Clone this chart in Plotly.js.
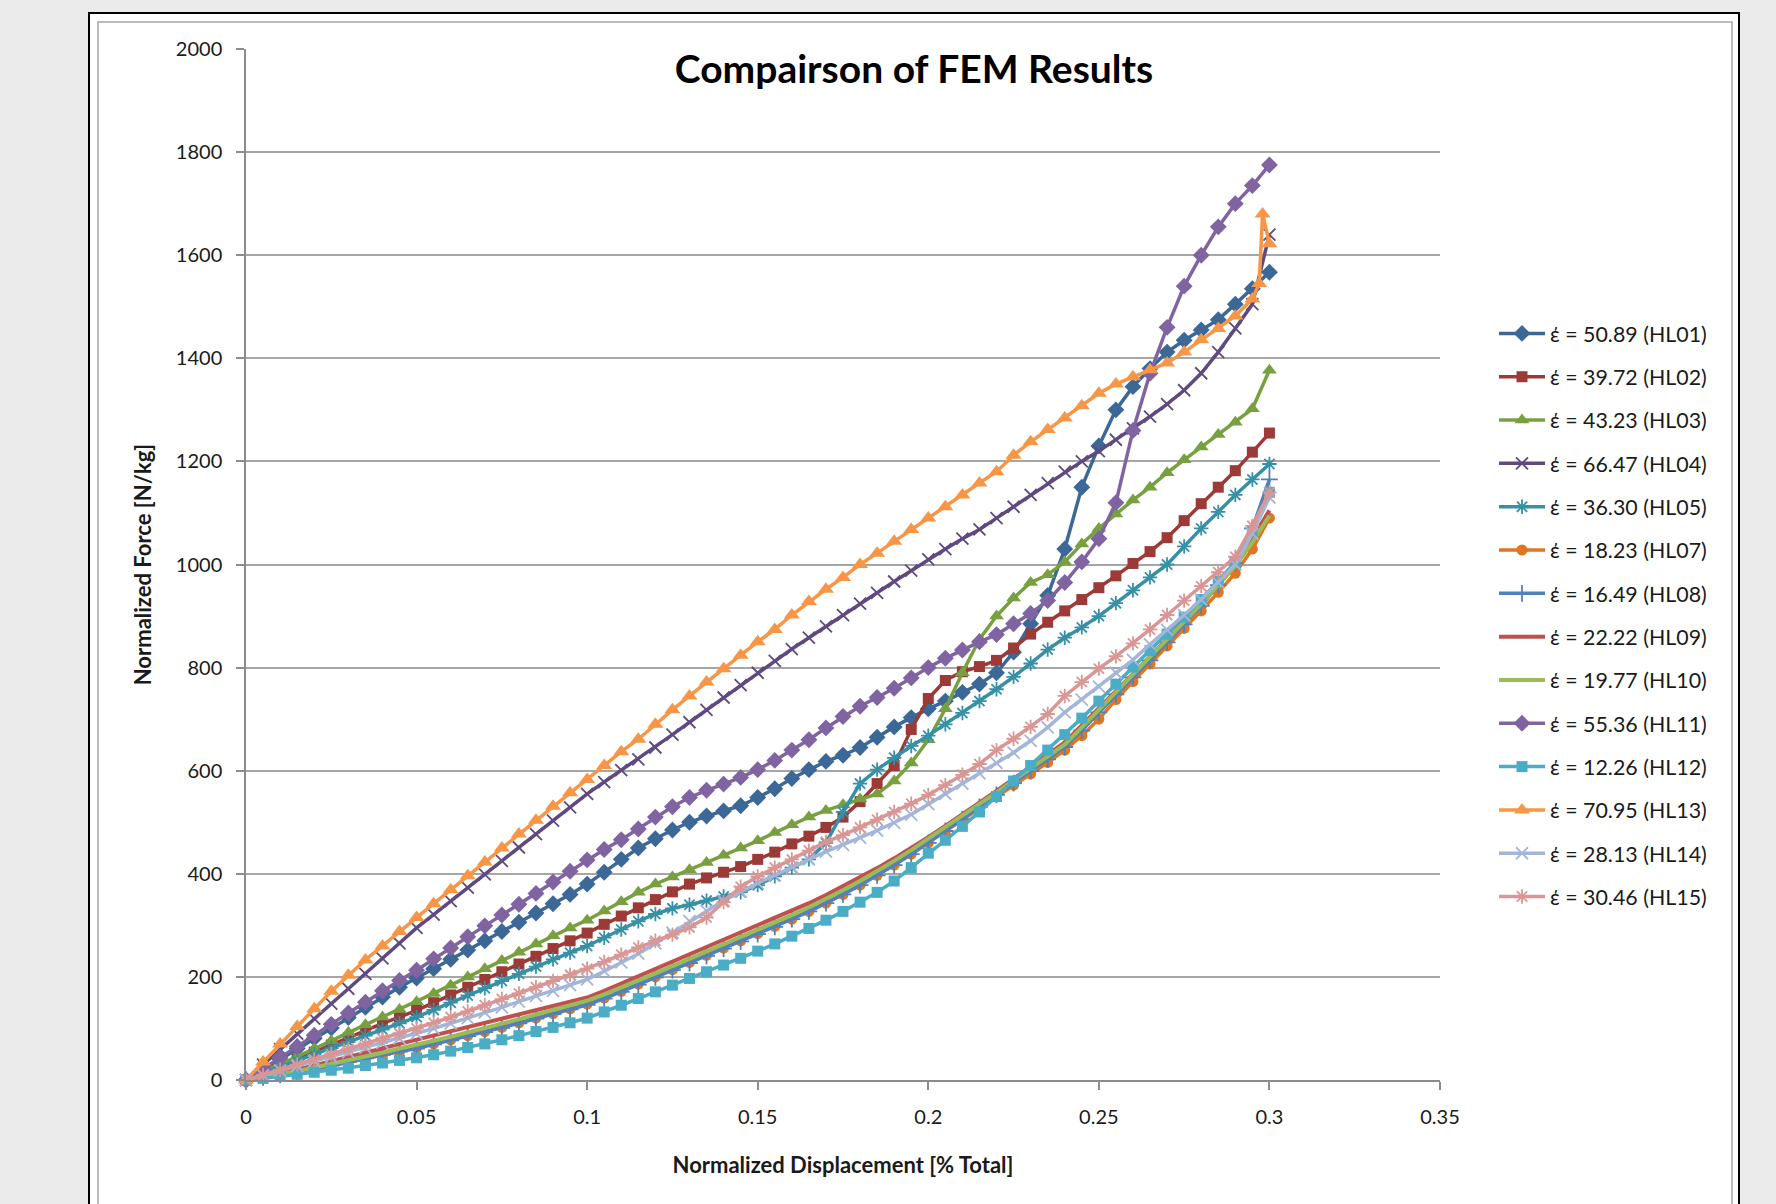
<!DOCTYPE html>
<html>
<head>
<meta charset="utf-8">
<script src="https://cdn.plot.ly/plotly-3.0.1.min.js"></script>
<style>
html,body{margin:0;padding:0;background:#ebebeb;}
#chart{width:1776px;height:1204px;}
</style>
</head>
<body>
<div id="chart"></div>
<script>
// ---------------- DATA ----------------
const displacement = [0,0.005,0.01,0.015,0.02,0.025,0.03,0.035,0.04,0.045,0.05,
  0.055,0.06,0.065,0.07,0.075,0.08,0.085,0.09,0.095,0.1,
  0.105,0.11,0.115,0.12,0.125,0.13,0.135,0.14,0.145,0.15,
  0.155,0.16,0.165,0.17,0.175,0.18,0.185,0.19,0.195,0.2,
  0.205,0.21,0.215,0.22,0.225,0.23,0.235,0.24,0.245,0.25,
  0.255,0.26,0.265,0.27,0.275,0.28,0.285,0.29,0.295,0.3];

const seriesNames = ['έ = 50.89 (HL01)','έ = 39.72 (HL02)','έ = 43.23 (HL03)','έ = 66.47 (HL04)',
  'έ = 36.30 (HL05)','έ = 18.23 (HL07)','έ = 16.49 (HL08)','έ = 22.22 (HL09)','έ = 19.77 (HL10)',
  'έ = 55.36 (HL11)','έ = 12.26 (HL12)','έ = 70.95 (HL13)','έ = 28.13 (HL14)','έ = 30.46 (HL15)'];

const hl01 = [0,20,40,61,81,101,121,141,161,180,198,
  216,234,252,270,288,306,324,342,360,380,
  403,428,450,468,485,500,512,522,532,548,
  565,585,602,618,630,645,665,685,703,720,
  735,752,768,790,830,885,940,1030,1150,1230,
  1300,1345,1380,1412,1435,1455,1475,1505,1535,1567];
const hl02 = [0,13,27,40,54,68,82,96,110,122,135,
  150,165,180,195,210,225,240,255,270,285,
  302,318,334,350,365,380,392,403,414,428,
  442,458,473,490,510,540,575,610,680,740,
  775,792,802,814,838,865,888,910,932,955,
  978,1002,1025,1052,1085,1118,1150,1182,1218,1255];
const hl03 = [0,15,30,45,61,76,92,107,122,137,152,
  168,184,200,216,232,248,264,280,295,310,
  328,346,364,380,394,408,422,436,450,464,
  480,495,510,523,534,545,555,580,615,660,
  720,790,855,900,935,965,980,1005,1040,1070,
  1098,1125,1150,1178,1203,1228,1252,1276,1302,1377];
const hl04 = [0,30,60,90,119,148,177,206,236,265,295,
  321,347,373,399,425,451,477,503,529,555,
  578,601,622,645,670,694,718,742,766,790,
  813,836,858,880,902,924,945,967,988,1010,
  1030,1050,1068,1090,1112,1135,1158,1180,1200,1220,
  1242,1264,1287,1311,1338,1371,1412,1458,1505,1640];
const hl05 = [0,12,25,37,50,62,74,86,98,110,122,
  136,150,164,178,192,206,220,234,247,260,
  276,292,308,322,333,340,348,356,364,378,
  395,412,428,460,520,575,602,625,648,668,
  690,712,735,758,782,808,835,858,878,900,
  925,950,975,1000,1035,1070,1102,1135,1165,1195];
const hl07 = [0,4,9,15,21,27,34,41,48,55,62,
  70,78,86,94,102,111,120,129,138,147,
  159,172,186,200,214,228,242,256,270,284,
  298,312,327,343,360,378,397,417,438,460,
  482,505,528,550,572,594,616,640,668,700,
  738,773,807,842,876,910,946,983,1030,1090];
const hl08 = [0,5,10,16,22,28,35,42,49,55,61,
  69,77,85,93,101,110,119,128,137,146,
  158,171,185,199,213,227,241,255,269,283,
  297,312,327,343,360,378,397,417,438,460,
  483,506,530,553,576,599,622,646,678,713,
  748,781,814,849,884,920,960,1003,1070,1165];
const hl09 = [0,6,13,20,28,36,44,52,61,70,78,
  86,94,102,110,118,126,134,142,151,160,
  173,187,201,215,229,243,257,271,285,299,
  313,328,343,359,376,393,411,430,450,471,
  493,515,538,561,584,607,630,655,688,722,
  756,788,821,856,890,925,962,1000,1050,1105];
const hl10 = [0,5,11,17,24,31,38,46,53,61,68,
  76,84,92,100,109,118,127,136,145,154,
  166,179,193,207,221,235,249,263,277,291,
  305,320,335,351,368,386,405,425,446,468,
  490,513,536,558,581,604,627,651,684,718,
  753,786,819,853,888,923,960,997,1043,1095];
const hl11 = [0,22,44,65,87,108,130,151,173,193,213,
  235,256,278,299,320,341,362,384,405,427,
  447,466,487,510,530,548,562,574,587,602,
  620,640,660,683,705,725,742,760,780,800,
  818,834,850,864,885,905,930,965,1005,1050,
  1120,1260,1371,1460,1540,1600,1655,1700,1735,1775];
const hl12 = [0,3,7,11,15,19,23,28,33,38,43,
  49,56,63,70,78,86,94,102,111,120,
  132,145,158,171,184,197,210,223,236,250,
  264,279,294,310,327,345,364,386,412,440,
  465,492,520,550,580,610,640,670,702,735,
  768,801,833,865,898,932,968,1005,1065,1140];
// HL13 follows displacement up to 0.295, then its own final points
const hl13 = [0,35,70,104,138,172,203,233,260,288,315,
  342,369,396,423,450,477,504,531,557,583,
  610,637,661,690,718,745,772,798,824,850,
  874,902,928,952,975,1000,1022,1045,1068,1090,
  1112,1135,1158,1180,1212,1238,1262,1284,1308,1332,
  1350,1364,1378,1391,1412,1436,1458,1482,1515];
const hl13TailDisp = [0.297,0.298,0.3];
const hl13TailForce = [1545,1680,1622];
const hl14 = [0,9,18,27,36,45,54,63,72,81,90,
  100,110,120,131,141,152,163,173,184,195,
  211,228,245,265,286,308,328,348,365,382,
  397,413,428,443,456,470,484,499,515,535,
  555,575,595,615,635,658,684,713,738,763,
  790,815,845,873,902,932,965,1000,1060,1130];
const hl15 = [0,10,20,30,40,50,60,70,80,90,100,
  111,122,133,145,157,168,180,192,204,216,
  229,243,257,270,282,296,315,345,375,395,
  412,428,445,462,475,490,505,520,536,553,
  572,592,613,640,662,685,710,745,772,798,
  822,847,874,902,930,958,985,1015,1075,1140];

const xTicks = [0,0.05,0.1,0.15,0.2,0.25,0.3,0.35];
const yTicks = [0,200,400,600,800,1000,1200,1400,1600,1800,2000];

// ---------------- STYLE ----------------
const FONT = 'Lato, "Open Sans", "Noto Sans", sans-serif';
const styles = [
  {color:'#3c6897', symbol:'diamond', size:13},
  {color:'#9c3a37', symbol:'square', size:11},
  {color:'#78a040', symbol:'triangle-up', size:13},
  {color:'#5f4a80', symbol:'x-thin-open', size:12},
  {color:'#3690a6', symbol:'asterisk-open', size:12},
  {color:'#e2751f', symbol:'circle', size:11},
  {color:'#4f81bd', symbol:'cross-thin-open', size:12},
  {color:'#c0504d', symbol:null},
  {color:'#9bbb59', symbol:null},
  {color:'#8064a2', symbol:'diamond', size:13},
  {color:'#4bacc6', symbol:'square', size:11},
  {color:'#f79646', symbol:'triangle-up', size:14},
  {color:'#a3b6d9', symbol:'x-thin-open', size:12},
  {color:'#d99694', symbol:'asterisk-open', size:12}
];

const seriesForce = [hl01,hl02,hl03,hl04,hl05,hl07,hl08,hl09,hl10,hl11,hl12,hl13,hl14,hl15];

const traces = seriesForce.map((ys, i) => {
  const st = styles[i];
  let xs = displacement.slice(0, ys.length);
  let yv = ys.slice();
  if (i === 11) { xs = xs.concat(hl13TailDisp); yv = yv.concat(hl13TailForce); }
  const t = {
    type:'scatter', x:xs, y:yv, name:seriesNames[i], legendgroup:'g'+i,
    mode: st.symbol ? 'lines+markers' : 'lines',
    line:{color:st.color, width: st.symbol ? 3.5 : 4},
    cliponaxis:false
  };
  if (st.symbol) {
    t.marker = {symbol:st.symbol, size:st.size, color:st.color,
      line:{color:st.color, width: st.symbol.indexOf('open')>=0 ? 1.8 : 0}};
  }
  return t;
});

// plot area in pixels: x 246..1440, y 49..1080
const L = 246, R = 1440, T = 49, B = 1080;
const px2x = p => (p - L) / (R - L);
const py2y = p => (B - p) / (B - T);

const layout = {
  width:1776, height:1204,
  paper_bgcolor:'#ebebeb', plot_bgcolor:'rgba(0,0,0,0)',
  margin:{l:L, r:1776-R, t:T, b:1204-B, pad:0},
  font:{family:FONT, color:'#1a1a1a'},
  showlegend:true,
  title:{text:'<b>Compairson of FEM Results</b>', font:{family:FONT, size:39, color:'#000'},
    x:914/1776, xref:'container', xanchor:'center', y:1-69/1204, yref:'container', yanchor:'middle'},
  xaxis:{range:[0,0.35], tickvals:xTicks, showgrid:false, zeroline:false,
    showline:true, linecolor:'#8c8c8c', linewidth:1.5, mirror:false,
    ticks:'outside', ticklen:8, tickwidth:1.5, tickcolor:'#8c8c8c',
    tickfont:{family:FONT, size:20, color:'#1a1a1a'}, ticklabelstandoff:10,
    title:{text:'<b>Normalized Displacement [% Total]</b>', font:{family:FONT, size:22, color:'#1a1a1a'}, standoff:31}},
  yaxis:{range:[0,2000], tickvals:yTicks, showgrid:true, gridcolor:'#a6a6a6', gridwidth:1.5, zeroline:false,
    showline:true, linecolor:'#8c8c8c', linewidth:1.5,
    ticks:'outside', ticklen:8, tickwidth:1.5, tickcolor:'#8c8c8c',
    tickfont:{family:FONT, size:20, color:'#1a1a1a'}, ticklabelstandoff:10,
    title:{text:'<b>Normalized Force [N/kg]</b>', font:{family:FONT, size:22, color:'#1a1a1a'}, standoff:18}},
  legend:{x:px2x(1494), xanchor:'left', y:py2y(313), yanchor:'top',
    font:{family:FONT, size:21.4, color:'#1a1a1a'}, tracegroupgap:12.5, itemwidth:46,
    bgcolor:'rgba(0,0,0,0)', borderwidth:0},
  shapes:[
    {type:'rect', xref:'paper', yref:'paper', layer:'below',
      x0:px2x(89), x1:px2x(1739), y0:py2y(1300), y1:py2y(13),
      fillcolor:'#ffffff', line:{color:'#000000', width:2}},
    {type:'rect', xref:'paper', yref:'paper', layer:'below',
      x0:px2x(98), x1:px2x(1732), y0:py2y(1300), y1:py2y(22),
      fillcolor:'rgba(0,0,0,0)', line:{color:'#a6a6a6', width:1.5}}
  ]
};

Plotly.newPlot('chart', traces, layout, {displayModeBar:false, responsive:false});
</script>
</body>
</html>
